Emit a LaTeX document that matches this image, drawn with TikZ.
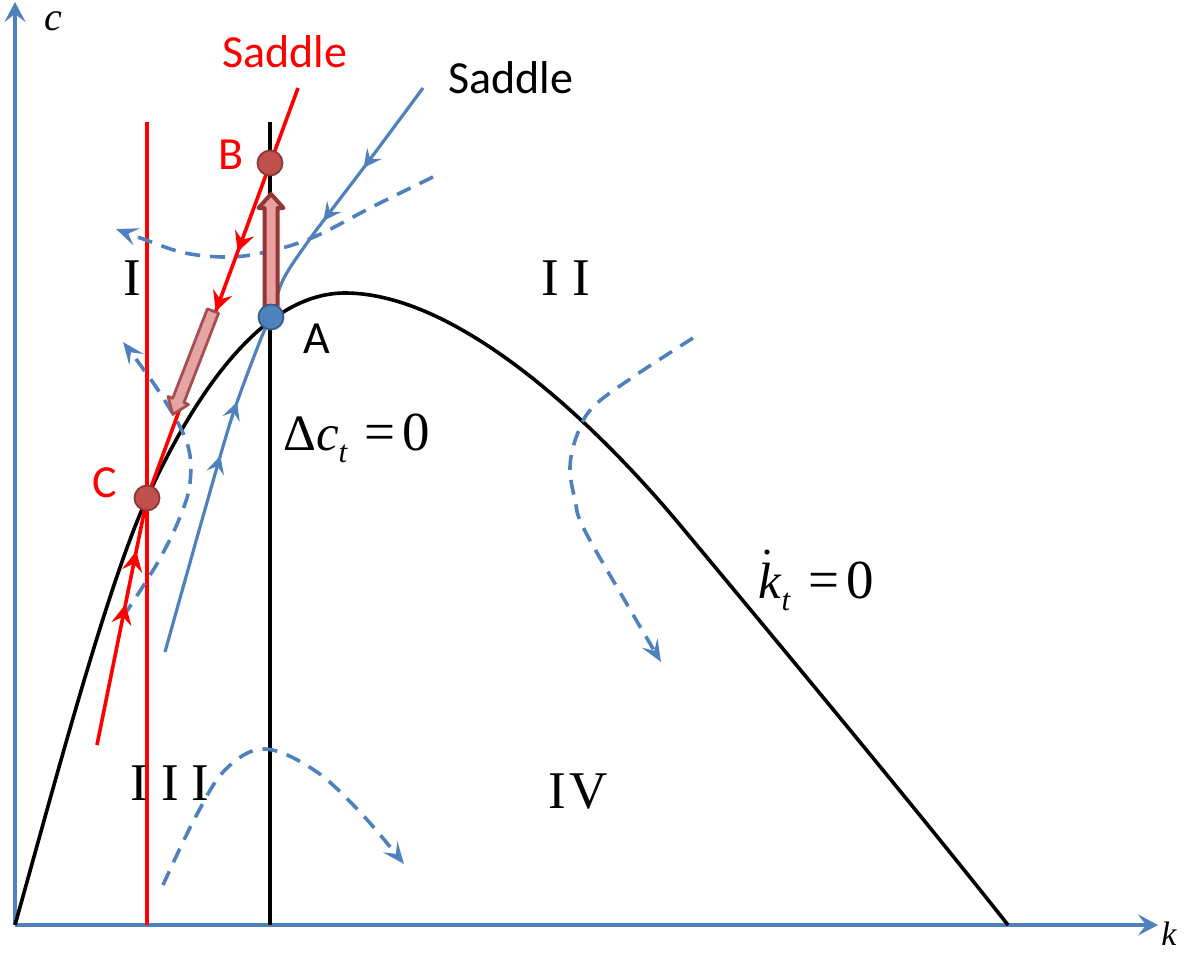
\documentclass[tikz,border=0pt]{standalone}
\usepackage{fontspec}
\setmainfont{Liberation Serif}
\newfontfamily\carl{Carlito}
\usetikzlibrary{arrows.meta,decorations.markings}
\definecolor{axblue}{RGB}{79,129,189}
\definecolor{ptred}{RGB}{192,80,77}
\definecolor{ptredd}{RGB}{140,56,54}
\definecolor{ptblued}{RGB}{56,93,138}
\definecolor{pinkf}{RGB}{230,165,165}
\definecolor{pinkd}{RGB}{165,80,78}
\definecolor{brownf}{RGB}{232,160,160}
\definecolor{brownd}{RGB}{148,54,52}
\tikzset{
  axisline/.style={line width=3.5pt, draw=axblue, -{Stealth[length=20pt,width=21pt,inset=8pt]}},
  nullc/.style={line width=3.6pt, black},
  redl/.style={line width=3.6pt, red},
  bluel/.style={line width=3.2pt, axblue},
  dashl/.style={line width=3.6pt, axblue, dash pattern=on 15pt off 10pt, -{Stealth[length=22pt,width=18pt,inset=9pt]}},
  twomarks/.style n args={3}{postaction={decorate}, decoration={markings,
     mark=at position #1 with {\arrow{Stealth[length=#3,width=#3,inset=7pt]}},
     mark=at position #2 with {\arrow{Stealth[length=#3,width=#3,inset=7pt]}}}},
  ptnode/.style={circle, inner sep=0pt, minimum size=25pt, line width=1.8pt},
  lab/.style={inner sep=0pt, font=\carl\fontsize{46}{50}\selectfont},
  roman/.style={inner sep=0pt, font=\fontsize{53}{56}\selectfont},
  eqlab/.style={inner sep=0pt, anchor=base west, font=\fontsize{51}{54}\selectfont},
}
\newcommand{\eqzero}{{\fontsize{55}{58}\selectfont =\hspace{7pt}0}}
\begin{document}
\begin{tikzpicture}[x=1pt,y=-1pt]
\useasboundingbox (0,0) rectangle (1188,955);
% key coordinates
\coordinate (O) at (15,925);
\coordinate (cTop) at (15,2);
\coordinate (kEnd) at (1158,925);
\coordinate (cA) at (271,317);
\coordinate (cB) at (270,163);
\coordinate (cC) at (147,498);
\coordinate (rvTop) at (147,122);
\coordinate (rvBot) at (147,925);
\coordinate (bvTop) at (270,122);
\coordinate (bvBot) at (270,925);
\coordinate (redTop) at (298,88);
\coordinate (redBot) at (97,745);
\coordinate (blueTop) at (423,88);
\coordinate (blueBot) at (165,652);
\coordinate (kEndCurve) at (1008,925);
\coordinate (peak) at (345,293);
% axes
\draw[axisline] (O) -- (cTop);
\draw[axisline] (O) -- (kEnd);
\node[inner sep=0pt, font=\itshape\fontsize{40}{40}\selectfont] (clab) at (53,21) {c};
\node[inner sep=0pt, font=\itshape\fontsize{34}{34}\selectfont] (klab) at (1169,934) {k};
% vertical lines
\draw[redl] (rvTop) -- (rvBot);
\draw[nullc] (bvTop) -- (bvBot);
% k-dot = 0 locus
\draw[nullc] (O) .. controls (55,782) and (107,586) .. (cC)
   .. controls (197,388) and (265,293) .. (peak)
   .. controls (455,293) and (590,417) .. (680,525)
   .. controls (780,645) and (918,811) .. (kEndCurve);
% dashed phase arrows
\draw[dashl] plot[smooth, tension=0.6] coordinates {(433,177) (374,206) (314,237) (270,251) (230,257) (185,253) (146,240) (116,229)};
\draw[dashl] plot[smooth, tension=0.6] coordinates {(123,617) (147,580) (163,553) (180,517) (190,483) (187,443) (160,393) (123,342)};
\draw[dashl] plot[smooth, tension=0.6] coordinates {(693,338) (633,377) (593,407) (577,435) (570,467) (575,500) (584,529) (628,606) (661,662)};
\draw[dashl] plot[smooth, tension=0.6] coordinates {(163,885) (195,818) (225,770) (264,749) (314,770) (360,812) (404,864)};
% blue saddle path
\draw[bluel, twomarks={0.36}{0.6}{18pt}] plot[smooth, tension=0.6] coordinates {(blueTop) (368,162) (330,212) (307,243) (283,280) (cA)};
\draw[bluel, twomarks={0.58}{0.74}{18pt}] plot[smooth, tension=0.5] coordinates {(blueBot) (202,520) (232,417) (260,341) (cA)};
% red saddle path
\draw[redl, twomarks={0.4}{0.545}{20pt}] (redTop) -- (cC);
\draw[redl, twomarks={0.57}{0.785}{20pt}] (redBot) -- (cC);
% thick arrows
\begin{scope}[shift={(213,311)}, rotate=248.8]
  \filldraw[fill=pinkf, draw=pinkd, line width=2.8pt, line join=round] (0,-6) -- (96,-6) -- (96,-11) -- (111,0) -- (96,11) -- (96,6) -- (0,6) -- cycle;
\end{scope}
\begin{scope}[shift={(271,306)}, rotate=90]
  \filldraw[fill=brownf, draw=brownd, line width=4pt, line join=round] (0,-6.5) -- (98,-6.5) -- (98,-12.5) -- (112,0) -- (98,12.5) -- (98,6.5) -- (0,6.5) -- cycle;
\end{scope}
% points
\node[ptnode, fill=ptred, draw=ptredd] (B) at (cB) {};
\node[ptnode, fill=ptred, draw=ptredd] (C) at (cC) {};
\node[ptnode, fill=axblue, draw=ptblued] (A) at (cA) {};
% labels
\node[lab, text=red] (sadR) at (285,52) {Saddle};
\node[lab, text=black] (sadB) at (511,78) {Saddle};
\node[lab, text=red] (labB) at (231,155) {B};
\node[lab, text=red] (labC) at (105,483) {C};
\node[lab, text=black] (labA) at (317,339) {A};
\node[roman] (r1) at (132,278) {I};
\node[roman] (r2) at (566,278) {I\kern13pt I};
\node[roman] (r3) at (170,783) {I\kern13pt I\kern13pt I};
\node[roman] (r4) at (578,792) {I\kern3pt V};
\node[eqlab] (dc) at (283,450) {Δ\textit{c}\raisebox{-12pt}{\fontsize{31}{31}\selectfont\textit{t}}\hspace{17pt}\eqzero};
\node[eqlab] (kd) at (758,598) {\textit{k}\raisebox{-12pt}{\fontsize{31}{31}\selectfont\textit{t}}\hspace{18pt}\eqzero};
\fill (767,552) circle (2.6pt);
\end{tikzpicture}
\end{document}
